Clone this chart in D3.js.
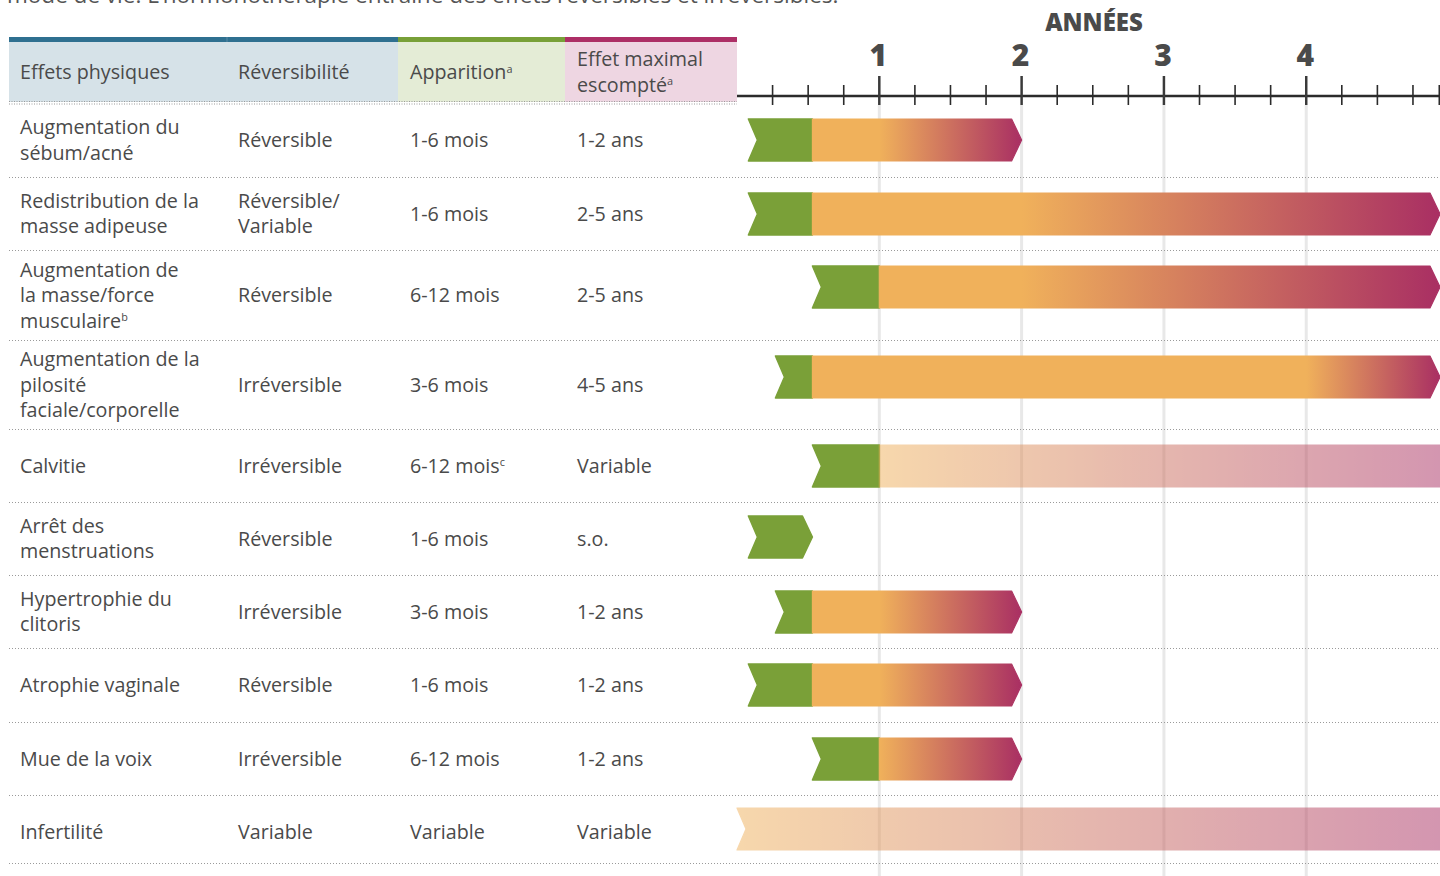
<!DOCTYPE html>
<html><head><meta charset="utf-8">
<script src="https://cdn.jsdelivr.net/npm/d3@7"></script>
<style>body{margin:0;background:#fff;overflow:hidden}svg{display:block}</style>
</head><body><svg id="c" width="1440" height="876"></svg>
<script>
// ---------------- DATA ----------------
const introText = "mode de vie. L’hormonothérapie entraîne des effets réversibles et irréversibles.";
const headerLabels = [["Effets physiques"], ["Réversibilité"], ["Apparition|a"], ["Effet maximal", "escompté|a"]];
const axisTitle = "ANNÉES";
const yearTicks = [1, 2, 3, 4];
const effects = [
  ["Augmentation du", "sébum/acné"],
  ["Redistribution de la", "masse adipeuse"],
  ["Augmentation de", "la masse/force", "musculaire|b"],
  ["Augmentation de la", "pilosité", "faciale/corporelle"],
  ["Calvitie"],
  ["Arrêt des", "menstruations"],
  ["Hypertrophie du", "clitoris"],
  ["Atrophie vaginale"],
  ["Mue de la voix"],
  ["Infertilité"]
];
const reversibility = [["Réversible"], ["Réversible/", "Variable"], ["Réversible"], ["Irréversible"], ["Irréversible"],
  ["Réversible"], ["Irréversible"], ["Réversible"], ["Irréversible"], ["Variable"]];
const onsetLabels = ["1-6 mois", "1-6 mois", "6-12 mois", "3-6 mois", "6-12 mois|c", "1-6 mois", "3-6 mois", "1-6 mois", "6-12 mois", "Variable"];
const maxLabels = ["1-2 ans", "2-5 ans", "2-5 ans", "4-5 ans", "Variable", "s.o.", "1-2 ans", "1-2 ans", "1-2 ans", "Variable"];
// bar values in years
const onsetStart = [0.08, 0.08, 0.53, 0.27, 0.53, 0.08, 0.27, 0.08, 0.53, null];
const onsetEnd   = [0.53, 0.53, 1.00, 0.53, 1.00, 0.53, 0.53, 0.53, 1.00, null];
const maxStart   = [1, 2, 2, 4, 1, null, 1, 1, 1, 0];
const maxEnd     = [2, 5, 5, 5, 5, null, 2, 2, 2, 5];
const isVariable = [false, false, false, false, true, false, false, false, false, true];

// ---------------- LAYOUT ----------------
const svg = d3.select("#c");
const FONT = "'Open Sans', Lato, sans-serif";
const FS = 19.7;
const textCol = "#4a4a4a";
const ORANGE = "#f0b15b", MAGENTA = "#a92f63", GREEN = "#7aa038";
const colX = [20, 238, 410, 577];
const headerBands = [[9, 398, "#d6e2e8", "#2f7090"], [398, 565, "#e4ecd6", "#78a038"], [565, 737, "#eed6e2", "#ad2f66"]];
const rowHeights = [74, 73, 90, 89, 73, 73, 73, 74, 73, 68];
const tableTop = 103;
const rowTops = [];
rowHeights.reduce((acc, h) => { rowTops.push(acc); return acc + h; }, tableTop);
const tableBottom = tableTop + d3.sum(rowHeights);

const x = d3.scaleLinear().domain([0, 4.94]).range([737, 1440]).clamp(true);
const axisY = 96;

// intro text (cut by the top edge, as in the source)
svg.append("text").attr("x", 7).attr("y", 3).attr("font-family", FONT).attr("font-size", 22.5)
  .attr("fill", "#555").text(introText);

// header
headerBands.forEach(b => {
  svg.append("rect").attr("x", b[0]).attr("y", 42).attr("width", b[1] - b[0]).attr("height", 60).attr("fill", b[2]);
  svg.append("rect").attr("x", b[0]).attr("y", 37).attr("width", b[1] - b[0]).attr("height", 5).attr("fill", b[3]);
});
svg.append("line").attr("x1", 227).attr("x2", 227).attr("y1", 37).attr("y2", 42).attr("stroke", "#5a8aa5").attr("stroke-width", 1);

function addText(g, xPos, lines, cy, size) {
  const lh = 25.5;
  const t = g.append("text").attr("font-family", FONT).attr("font-size", size).attr("fill", textCol);
  lines.forEach((ln, i) => {
    const [main, sup] = ln.split("|");
    const y = cy + (i - (lines.length - 1) / 2) * lh;
    t.append("tspan").attr("x", xPos).attr("y", y).attr("dy", "0.36em").text(main);
    if (sup) t.append("tspan").attr("font-size", size * 0.55).attr("dy", "-0.6em").text(sup);
  });
}
const hdr = svg.append("g");
headerLabels.forEach((lines, i) => addText(hdr, colX[i], lines, 72, FS));

// header double dotted line
[101.5, 104].forEach(yy => svg.append("line").attr("x1", 9).attr("x2", 737).attr("y1", yy).attr("y2", yy)
  .attr("stroke", "#9a9a9a").attr("stroke-dasharray", "1,1.5"));

// gridlines
svg.append("g").selectAll("line").data(yearTicks).join("line")
  .attr("x1", d => x(d)).attr("x2", d => x(d)).attr("y1", 105).attr("y2", 876)
  .attr("stroke", "#e8e8e8").attr("stroke-width", 3);

// row separators
svg.append("g").selectAll("line").data(rowTops.slice(1).concat([tableBottom])).join("line")
  .attr("x1", 9).attr("x2", 1440).attr("y1", d => d + 0.5).attr("y2", d => d + 0.5)
  .attr("stroke", "#9a9a9a").attr("stroke-width", 1).attr("stroke-dasharray", "1,2");

// table text
const body = svg.append("g");
effects.forEach((e, i) => {
  const cy = rowTops[i] + rowHeights[i] / 2 + (i === 9 ? 3 : 0);
  addText(body, colX[0], e, cy, FS);
  addText(body, colX[1], reversibility[i], cy, FS);
  addText(body, colX[2], [onsetLabels[i]], cy, FS);
  addText(body, colX[3], [maxLabels[i]], cy, FS);
});

// axis
const ax = svg.append("g");
ax.append("text").attr("x", 1094).attr("y", 22).attr("dy", "0.36em").attr("text-anchor", "middle")
  .attr("font-family", FONT).attr("font-weight", 800).attr("font-size", 24).attr("fill", "#4a4a4a").text(axisTitle);
ax.selectAll("text.tl").data(yearTicks).join("text").attr("class", "tl")
  .attr("x", d => x(d) - 1).attr("y", 55).attr("dy", "0.36em").attr("text-anchor", "middle")
  .attr("font-family", FONT).attr("font-weight", 800).attr("font-size", 30).attr("fill", "#4a4a4a").text(d => d);
ax.append("line").attr("x1", x.range()[0]).attr("x2", x.range()[1]).attr("y1", axisY).attr("y2", axisY)
  .attr("stroke", "#2b2b2b").attr("stroke-width", 2.5);
const minor = d3.range(0.25, 4.9, 0.25).filter(v => Math.abs(v - Math.round(v)) > 0.01).concat([4.935]);
ax.selectAll("line.mn").data(minor).join("line").attr("class", "mn")
  .attr("x1", d => x(d)).attr("x2", d => x(d)).attr("y1", 85).attr("y2", 105)
  .attr("stroke", "#2b2b2b").attr("stroke-width", 1.6);
ax.selectAll("line.mj").data(yearTicks).join("line").attr("class", "mj")
  .attr("x1", d => x(d)).attr("x2", d => x(d)).attr("y1", 76).attr("y2", 105)
  .attr("stroke", "#3a3a3a").attr("stroke-width", 2.5);

// bars
const defs = svg.append("defs");
const BH = 42, NOTCH = 9, TIP = 10;
function shape(x0, x1, notch, tip, y) {
  const p = d3.path();
  p.moveTo(x0, y);
  if (tip) { p.lineTo(x1 - TIP, y); p.lineTo(x1, y + BH / 2); p.lineTo(x1 - TIP, y + BH); }
  else { p.lineTo(x1, y); p.lineTo(x1, y + BH); }
  p.lineTo(x0, y + BH);
  if (notch) p.lineTo(x0 + NOTCH, y + BH / 2);
  p.closePath();
  return p.toString();
}
const bars = svg.append("g");
effects.forEach((e, i) => {
  const y = rowTops[i] + 16 - (i === 5 ? 2 : 0) - (i === 9 ? 3 : 0);
  const hasMax = maxEnd[i] !== null;
  if (onsetStart[i] !== null) {
    bars.append("path").attr("d", shape(x(onsetStart[i]), x(onsetEnd[i]), true, !hasMax, y))
      .attr("fill", GREEN).attr("stroke", GREEN).attr("stroke-width", 1.5).attr("stroke-linejoin", "round");
  }
  if (!hasMax) return;
  const xa = onsetEnd[i] !== null ? x(onsetEnd[i]) : x(maxStart[i]);
  const xb = x(maxEnd[i]);
  const gid = "g" + i;
  const gr = defs.append("linearGradient").attr("id", gid).attr("gradientUnits", "userSpaceOnUse")
    .attr("x1", isVariable[i] ? xa : x(maxStart[i])).attr("x2", xb).attr("y1", 0).attr("y2", 0);
  gr.append("stop").attr("offset", 0).attr("stop-color", ORANGE);
  gr.append("stop").attr("offset", 1).attr("stop-color", MAGENTA);
  const tip = !isVariable[i];
  bars.append("path").attr("d", shape(xa, xb, onsetStart[i] === null, tip, y))
    .attr("fill", `url(#${gid})`).attr("stroke", `url(#${gid})`).attr("stroke-width", 1.2)
    .attr("stroke-linejoin", "round").attr("opacity", isVariable[i] ? 0.5 : 1);
});
</script></body></html>
